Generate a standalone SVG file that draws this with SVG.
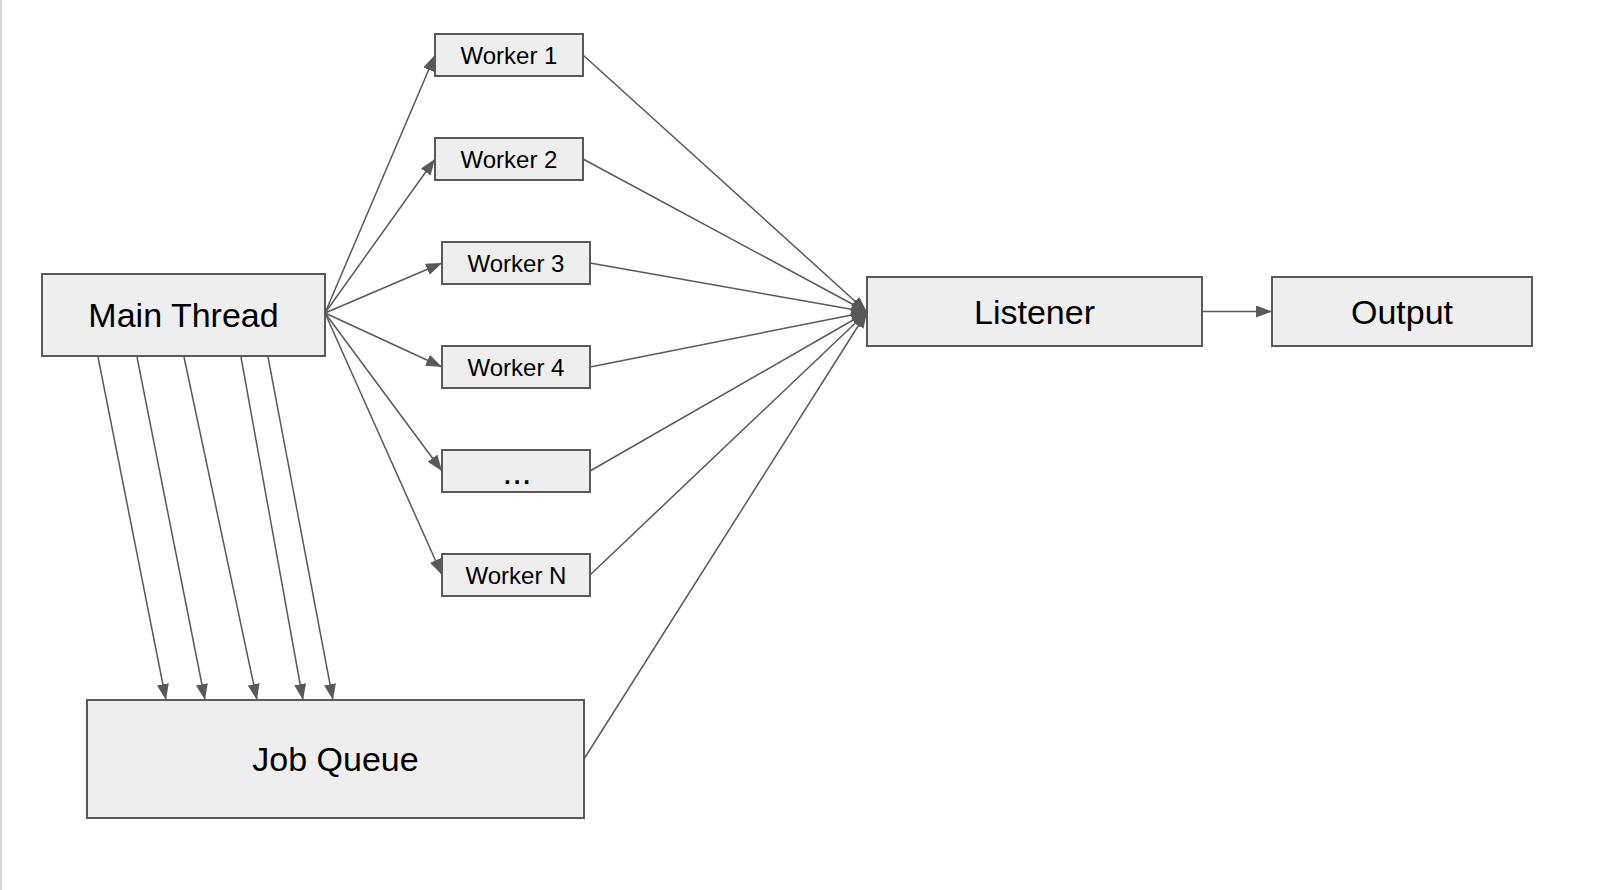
<svg xmlns="http://www.w3.org/2000/svg" width="1599" height="890" viewBox="0 0 1599 890">
<defs>
<style>
.box{fill:#eeeeee;stroke:#595959;stroke-width:2}
.lbl{font-family:"Liberation Sans",Arial,sans-serif;fill:#000;text-anchor:middle}
.big{font-size:34px}
.small{font-size:24px}
.edge{stroke:#595959;stroke-width:1.5;fill:none;marker-end:url(#arr)}
</style>
<marker id="arr" markerUnits="userSpaceOnUse" markerWidth="17" markerHeight="13" refX="16" refY="6" orient="auto">
<path d="M0,0 L16,6 L0,12 Z" fill="#595959"/>
</marker>
</defs>
<rect x="0" y="0" width="1599" height="890" fill="#ffffff"/>
<line x1="1" y1="0" x2="1" y2="890" stroke="#d6d6d6" stroke-width="2"/>
<g id="connectors">
<path class="edge" d="M325,313 L435,55"/>
<path class="edge" d="M325,313 L435,159"/>
<path class="edge" d="M325,313 L442,263"/>
<path class="edge" d="M325,313 L442,367"/>
<path class="edge" d="M325,313 L442,471"/>
<path class="edge" d="M325,313 L442,575"/>
<path class="edge" d="M583,55 L867,312"/>
<path class="edge" d="M583,159 L867,312"/>
<path class="edge" d="M590,263 L867,312"/>
<path class="edge" d="M590,367 L867,312"/>
<path class="edge" d="M590,471 L867,312"/>
<path class="edge" d="M590,575 L867,312"/>
<path class="edge" d="M584,759 L867,312"/>
<path class="edge" d="M1202,311.5 L1272,311.5"/>
<path class="edge" d="M98,357 L166,700"/>
<path class="edge" d="M137,357 L205,700"/>
<path class="edge" d="M184,357 L257,700"/>
<path class="edge" d="M241,357 L303,700"/>
<path class="edge" d="M268,357 L333,700"/>
</g>
<g id="main-thread">
<rect class="box" x="42" y="274" width="283" height="82"/>
<text class="lbl big" x="183.5" y="327">Main Thread</text>
</g>
<g id="worker-1">
<rect class="box" x="435" y="34" width="148" height="42"/>
<text class="lbl small" x="509" y="63.6">Worker 1</text>
</g>
<g id="worker-2">
<rect class="box" x="435" y="138" width="148" height="42"/>
<text class="lbl small" x="509" y="167.6">Worker 2</text>
</g>
<g id="worker-3">
<rect class="box" x="442" y="242" width="148" height="42"/>
<text class="lbl small" x="516" y="271.6">Worker 3</text>
</g>
<g id="worker-4">
<rect class="box" x="442" y="346" width="148" height="42"/>
<text class="lbl small" x="516" y="375.6">Worker 4</text>
</g>
<g id="worker-ellipsis">
<rect class="box" x="442" y="450" width="148" height="42"/>
<text class="lbl" style="font-size:35px" x="517" y="484">...</text>
</g>
<g id="worker-n">
<rect class="box" x="442" y="554" width="148" height="42"/>
<text class="lbl small" x="516" y="583.6">Worker N</text>
</g>
<g id="listener">
<rect class="box" x="867" y="277" width="335" height="69"/>
<text class="lbl big" x="1034.5" y="323.5">Listener</text>
</g>
<g id="output">
<rect class="box" x="1272" y="277" width="260" height="69"/>
<text class="lbl big" x="1402" y="323.5">Output</text>
</g>
<g id="job-queue">
<rect class="box" x="87" y="700" width="497" height="118"/>
<text class="lbl big" x="335.5" y="771">Job Queue</text>
</g>
</svg>
